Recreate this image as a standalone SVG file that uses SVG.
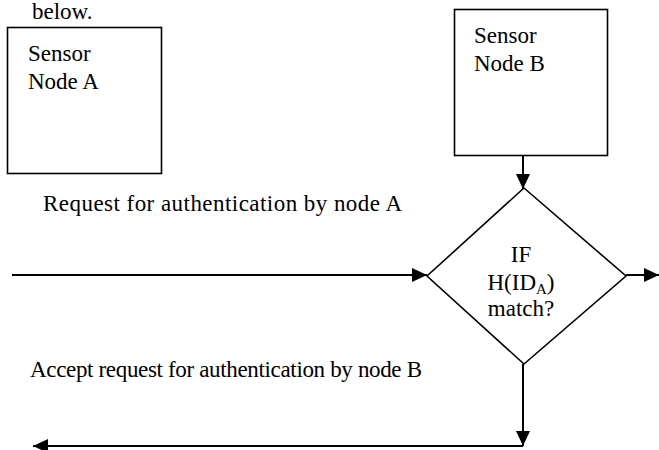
<svg xmlns="http://www.w3.org/2000/svg" width="659" height="450" viewBox="0 0 659 450">
<style>
text{font-family:"Liberation Serif","Times New Roman",serif;font-size:23px;fill:#000}
.node{fill:#fff;stroke:#000;stroke-width:1.6}
.conn{fill:none;stroke:#000;stroke-width:2}
</style>
<defs>
<marker id="ah" markerUnits="userSpaceOnUse" markerWidth="16" markerHeight="14" refX="15" refY="7" orient="auto">
<path d="M0,0 L15,7 L0,14 Z" fill="#000"/>
</marker>
</defs>
<rect width="659" height="450" fill="#fff"/>
<text x="32" y="19">below.</text>
<g id="nodeA">
<rect class="node" x="7.5" y="27.5" width="154" height="146"/>
<text x="28" y="61" font-size="24">Sensor</text>
<text x="28" y="89" font-size="24">Node A</text>
</g>
<g id="nodeB">
<rect class="node" x="454.5" y="9.5" width="153" height="146"/>
<text x="474" y="43" font-size="24">Sensor</text>
<text x="474" y="71" font-size="24">Node B</text>
</g>
<g id="decision">
<polygon class="node" points="524,188 626,276 524,364 427,276"/>
<text x="521" y="262" text-anchor="middle">IF</text>
<text x="521" y="290" text-anchor="middle">H(ID<tspan font-size="15" dy="4">A</tspan><tspan dy="-4">)</tspan></text>
<text x="521" y="316" text-anchor="middle">match?</text>
</g>
<g id="labels">
<text x="43" y="211" textLength="359">Request for authentication by node A</text>
<text x="30" y="377" textLength="392">Accept request for authentication by node B</text>
</g>
<g id="connectors">
<line class="conn" x1="523" y1="156" x2="523" y2="189" marker-end="url(#ah)"/>
<line class="conn" x1="12" y1="275" x2="427" y2="275" marker-end="url(#ah)"/>
<line class="conn" x1="626" y1="275" x2="659" y2="275" marker-end="url(#ah)"/>
<line class="conn" x1="523" y1="364" x2="523" y2="446" marker-end="url(#ah)"/>
<line class="conn" x1="523" y1="446" x2="33" y2="446" marker-end="url(#ah)"/>
</g>
</svg>
